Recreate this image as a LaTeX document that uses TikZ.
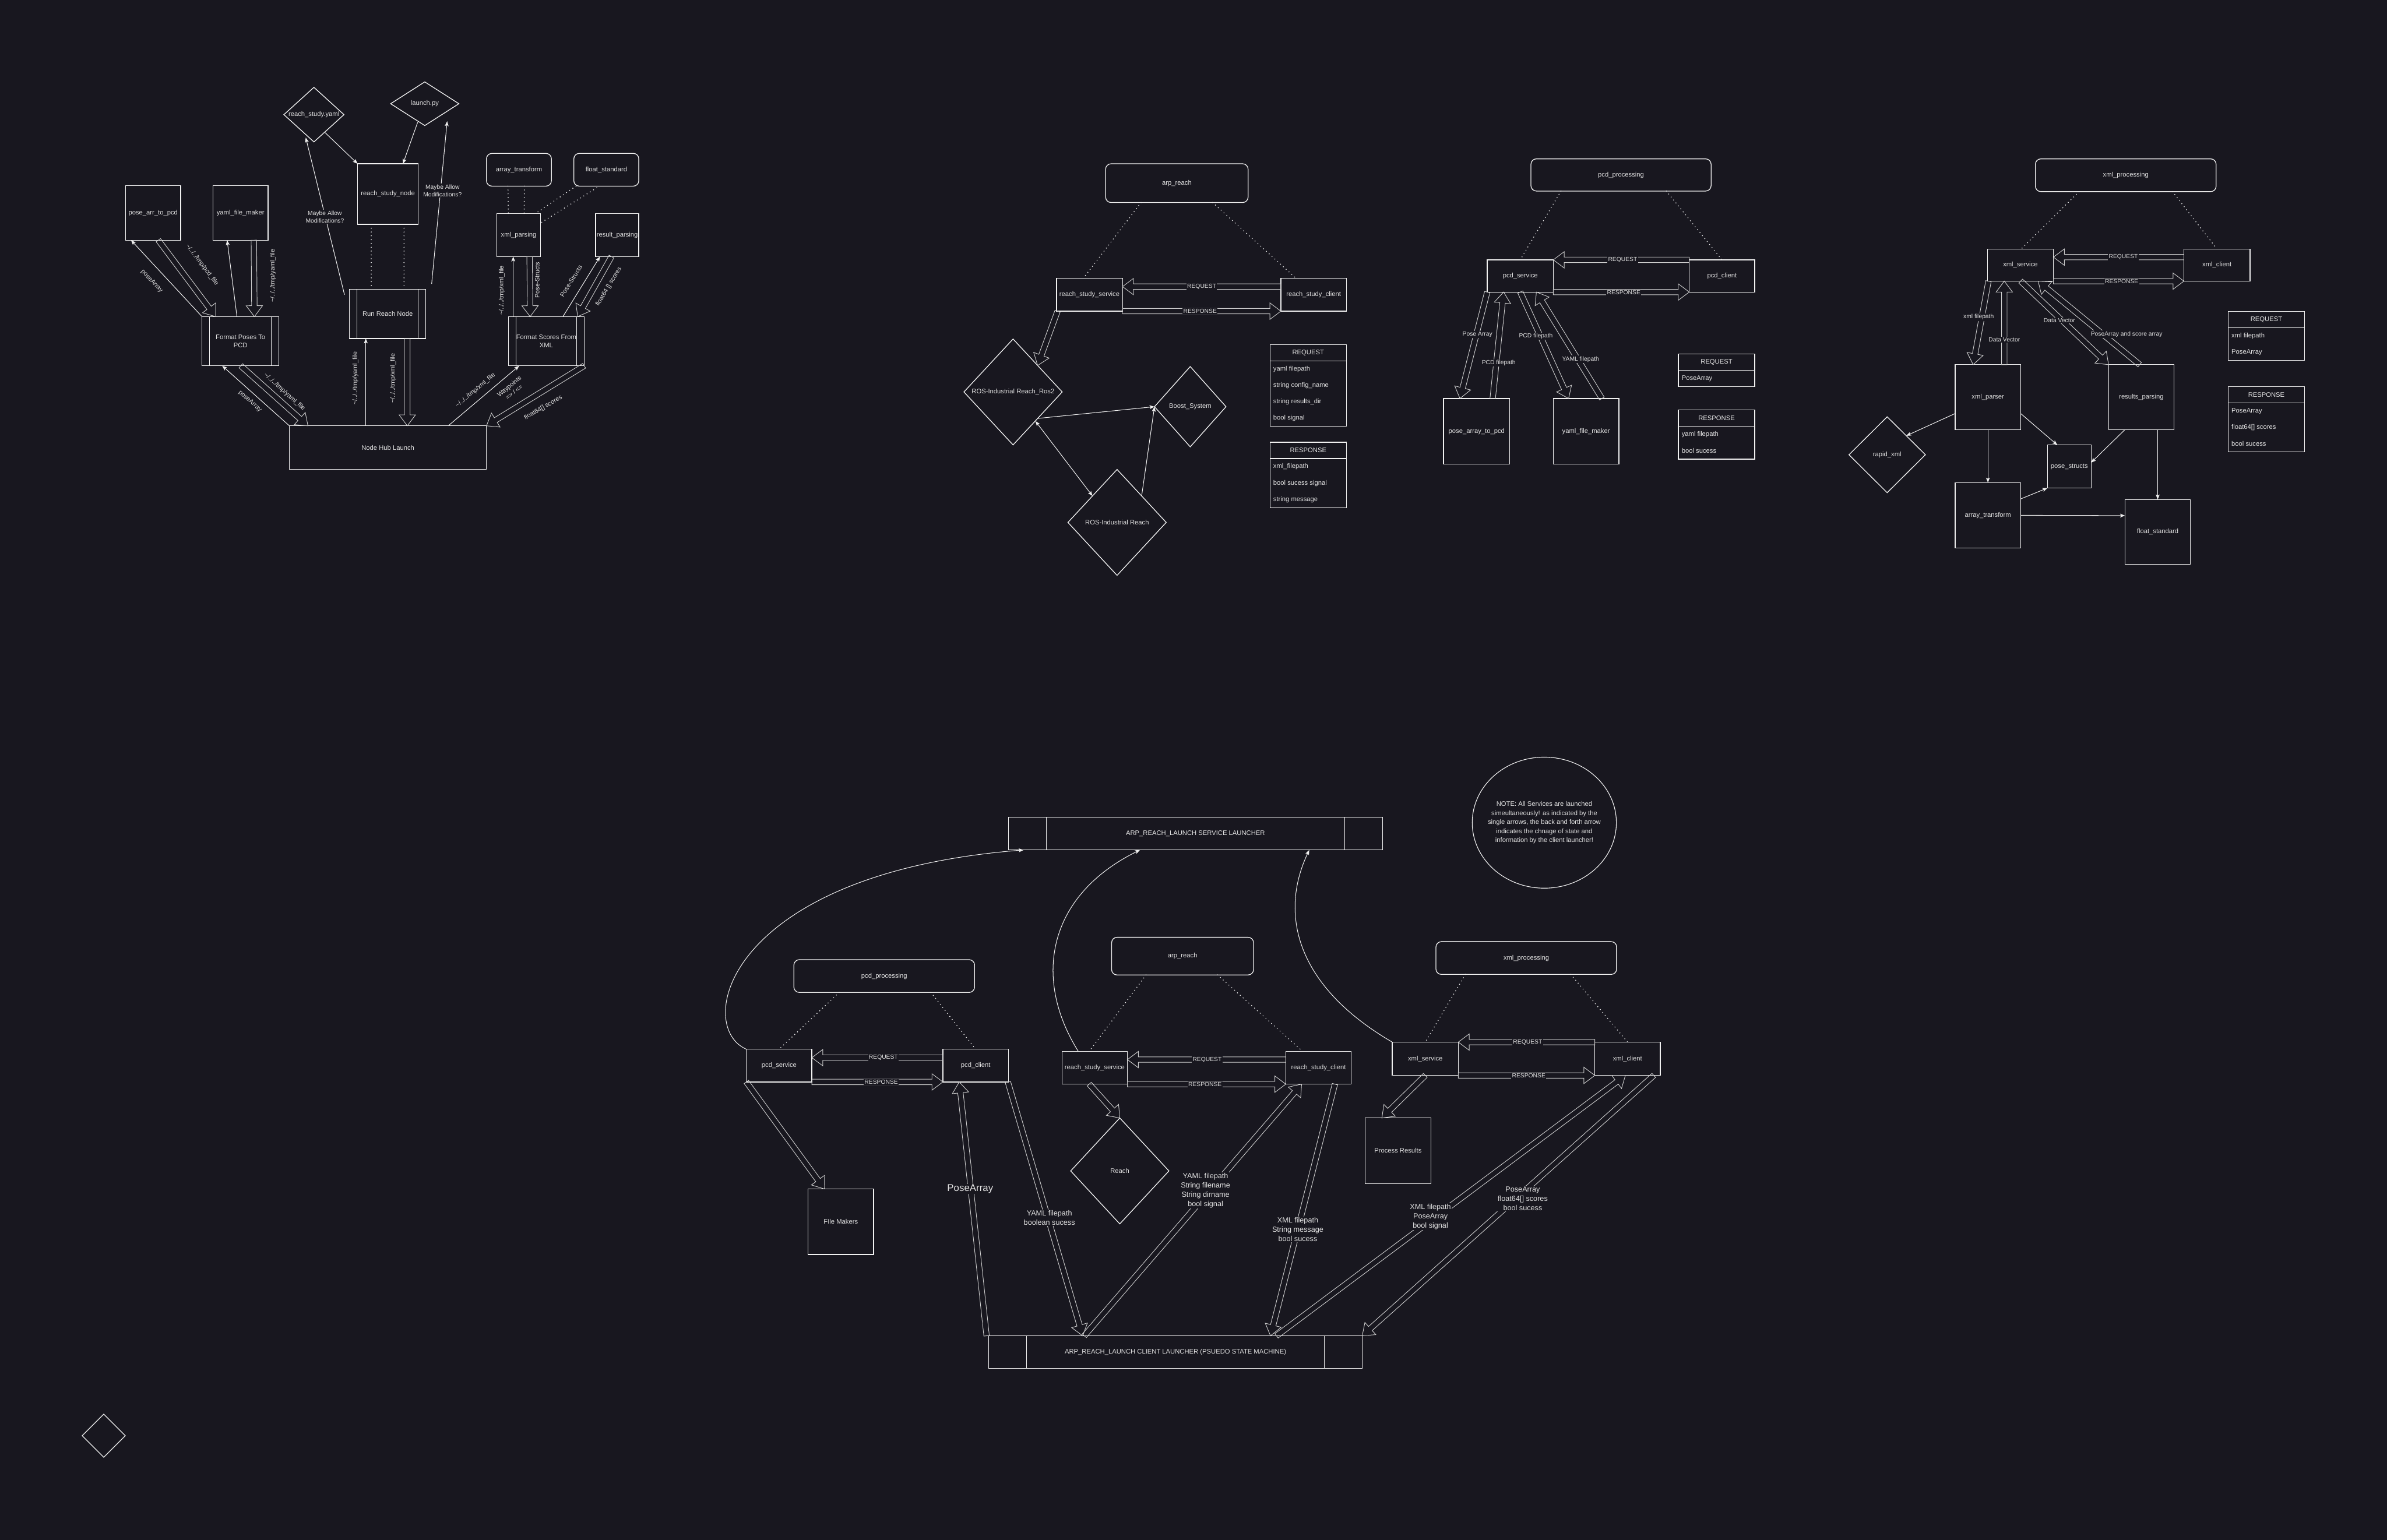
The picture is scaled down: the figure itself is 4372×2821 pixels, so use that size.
\documentclass[tikz,border=0pt]{standalone}
\usepackage{fontspec}
\setmainfont{Liberation Sans}
\usetikzlibrary{arrows.meta,shapes.geometric,calc}
\definecolor{bg}{RGB}{24,23,31}
\definecolor{ln}{RGB}{240,240,240}
\definecolor{tx}{RGB}{226,226,226}
\definecolor{fl}{RGB}{205,205,205}
\newcommand\flexar[2]{%
  \coordinate (fxa) at #1;
  \coordinate (fxb) at #2;
  \coordinate (fxh) at ($(fxb)!20pt!(fxa)$);
  \draw[flex] ($(fxa)!5pt!90:(fxb)$) -- ($(fxh)!5pt!90:(fxb)$) -- ($(fxh)!15pt!90:(fxb)$) -- (fxb) -- ($(fxh)!15pt!-90:(fxb)$) -- ($(fxh)!5pt!-90:(fxb)$) -- ($(fxa)!5pt!-90:(fxb)$) -- cycle;}
\begin{document}
\begin{tikzpicture}[x=1pt,y=-1pt,
 every node/.style={text=tx},
 box/.style={draw=ln, line width=1.4pt, rectangle, inner sep=0pt, outer sep=0pt, font=\fontsize{12}{15}\selectfont, align=center},
 rbox/.style={box, rounded corners=10pt},
 dia/.style={draw=ln, line width=1.4pt, diamond, inner sep=0pt, outer sep=0pt},
 lbl/.style={font=\fontsize{12}{15}\selectfont, align=center, inner sep=0pt},
 elbl/.style={font=\fontsize{11}{14}\selectfont, align=center, inner sep=1.5pt, fill=bg},
 rlbl/.style={font=\fontsize{11.5}{14}\selectfont, align=center, inner sep=0pt},
 big/.style={font=\fontsize{13.5}{16.8}\selectfont, align=center, inner sep=1.5pt, fill=bg},
 conn/.style={draw=ln, line width=1.1pt, -{Stealth[length=9pt,width=7pt,inset=2pt]}},
 dots/.style={draw=ln, line width=2pt, dash pattern=on 0pt off 7pt, line cap=round},
 flex/.style={draw=fl, line width=1pt, line join=miter},
 tbl/.style={draw=ln, line width=1.4pt, rectangle, inner sep=0pt, outer sep=0pt, minimum width=140, font=\fontsize{12}{15}\selectfont},
 rowt/.style={anchor=west, inner sep=0pt, font=\fontsize{12}{15}\selectfont},
 inner/.style={draw=ln, line width=1.2pt}
]
\fill[bg] (0,0) rectangle (4372,2821);
\useasboundingbox (0,0) rectangle (4372,2821);

%================ CLUSTER 1 =================
\node[dia, minimum width=110, minimum height=100] (yamlD) at (575,210) {};
\node[lbl] at (yamlD) {reach\_study.yaml};
\node[dia, minimum width=125, minimum height=80] (launchD) at (778,190) {};
\node[lbl] at (launchD) {launch.py};
\node[box, minimum width=111, minimum height=111] (rsn) at (710.5,355.5) {reach\_study\_node};
\node[box, minimum width=101, minimum height=100] (pap) at (280.5,390) {pose\_arr\_to\_pcd};
\node[box, minimum width=101, minimum height=100] (yfm1) at (440.5,390) {yaml\_file\_maker};
\node[rbox, minimum width=119, minimum height=60] (at1) at (950.5,311) {array\_transform};
\node[rbox, minimum width=119, minimum height=60] (fs1) at (1110.5,311) {float\_standard};
\node[box, minimum width=80, minimum height=79] (xp1) at (950,430.5) {xml\_parsing};
\node[box, minimum width=79, minimum height=79] (rp1) at (1130.5,430.5) {result\_parsing};
\node[box, minimum width=140, minimum height=90] (rrn) at (710,575) {Run Reach Node};
\node[box, minimum width=141, minimum height=90] (fpp) at (440.5,625) {Format Poses To\\PCD};
\node[box, minimum width=139, minimum height=90] (fsx) at (1000.5,625) {Format Scores From\\XML};
\node[box, minimum width=361, minimum height=80] (nhl) at (710.5,820) {Node Hub Launch};
\foreach \n in {rrn,fpp,fsx} {
  \draw[inner] ([xshift=14]\n.north west) -- ([xshift=14]\n.south west);
  \draw[inner] ([xshift=-14]\n.north east) -- ([xshift=-14]\n.south east);
}
\draw[conn] ([shift={(-7,8)}]yamlD.south east) -- (rsn.north west);
\draw[conn] ([shift={(-13,34)}]launchD.center) -- ([xshift=-28]rsn.north east);
\draw[conn] ([shift={(-9,10)}]rrn.north west) -- ([shift={(-15,42)}]yamlD.center);
\draw[conn] ([shift={(10.6,-10)}]rrn.north east) -- ([shift={(41,32)}]launchD.center);
\draw[dots] ([xshift=-30.5]rsn.south) -- ([xshift=-30]rrn.north);
\draw[dots] ([xshift=29.5]rsn.south) -- ([xshift=30]rrn.north);
\draw[dots] ([xshift=-20]at1.south) -- ([xshift=-19]xp1.north);
\draw[dots] ([xshift=10]at1.south) -- ([xshift=10]xp1.north);
\draw[dots] ([xshift=4]fs1.south west) -- ([xshift=-9]xp1.north east);
\draw[dots] ([shift={(42,3)}]fs1.south west) -- ([shift={(1,17)}]xp1.north east);

\draw[conn] (fpp.north west) -- ([xshift=10]pap.south west);
\flexar{([xshift=60]pap.south west)}{([xshift=25]fpp.north west)}
\draw[conn] ([xshift=64]fpp.north west) -- ([xshift=26]yfm1.south west);
\flexar{([xshift=75]yfm1.south west)}{([xshift=96]fpp.north west)}
\draw[conn] (nhl.north west) -- ([xshift=37]fpp.south west);
\flexar{([xshift=71]fpp.south west)}{([xshift=34]nhl.north west)}
\draw[conn] ([xshift=140]nhl.north west) -- ([xshift=30]rrn.south west);
\flexar{([xshift=106]rrn.south west)}{([xshift=216]nhl.north west)}
\draw[conn] ([xshift=291]nhl.north west) -- ([xshift=20]fsx.south west);
\flexar{(fsx.south east)}{(nhl.north east)}
\draw[conn] ([xshift=9]fsx.north west) -- ([xshift=30]xp1.south west);
\flexar{([xshift=60]xp1.south west)}{([xshift=40]fsx.north west)}
\draw[conn] ([xshift=100]fsx.north west) -- ([xshift=8]rp1.south west);
\flexar{([xshift=29]rp1.south west)}{([xshift=127]fsx.north west)}

\node[elbl] at (595,397) {Maybe Allow\\Modifications?};
\node[elbl] at (810.5,349) {Maybe Allow\\Modifications?};
\node[rlbl, rotate=-46.7] at (278,515) {poseArray};
\node[rlbl, rotate=-52.7] at (370,485) {\textasciitilde/../../tmp/pcd\_file};
\node[rlbl, rotate=90] at (500,505) {\textasciitilde/../../tmp/yaml\_file};
\node[rlbl, rotate=-41.5] at (458,735) {poseArray};
\node[rlbl, rotate=-41.8] at (521,718) {\textasciitilde/../../tmp/yaml\_file};
\node[rlbl, rotate=90] at (651,693) {\textasciitilde/../../tmp/yaml\_file};
\node[rlbl, rotate=90] at (720,693) {\textasciitilde/../../tmp/xml\_file};
\node[rlbl, rotate=40] at (871,715) {\textasciitilde/../../tmp/xml\_file};
\node[rlbl, rotate=40] at (937,713) {Waypoints\\=> / <=};
\node[rlbl, rotate=30] at (995,747) {float64[] scores};
\node[rlbl, rotate=90] at (919,532) {\textasciitilde/../../tmp/xml\_file};
\node[rlbl, rotate=90] at (984,513) {Pose-Structs};
\node[rlbl, rotate=58] at (1046,515) {Pose-Structs};
\node[rlbl, rotate=59] at (1115,525) {float64 [] scores};

%================ CLUSTER 2 (arp_reach) =================
\node[rbox, minimum width=261, minimum height=71] (ar2) at (2155.5,335.5) {arp\_reach};
\node[box, minimum width=121, minimum height=60] (rss2) at (1995.5,540) {reach\_study\_service};
\node[box, minimum width=120, minimum height=60] (rsc2) at (2406,540) {reach\_study\_client};
\node[dia, minimum width=180, minimum height=194] (ros2D) at (1855.5,718) {};
\node[lbl] at (ros2D) {ROS-Industrial Reach\_Ros2};
\node[dia, minimum width=131, minimum height=147] (boostD) at (2180,745) {};
\node[lbl] at (boostD) {Boost\_System};
\node[dia, minimum width=180, minimum height=194] (rosD) at (2046,957) {};
\node[lbl] at (rosD) {ROS-Industrial Reach};
\draw[dots] ([xshift=-65.5]ar2.south) -- ([xshift=-11.5]rss2.north);
\draw[dots] ([xshift=65.5]ar2.south) -- ([xshift=-32]rsc2.north);
\flexar{([yshift=15]rsc2.west)}{([yshift=15]rss2.east)}
\flexar{(rss2.south east)}{(rsc2.south west)}
\node[elbl] at (2201,525) {REQUEST};
\node[elbl] at (2198,570) {RESPONSE};
\flexar{([xshift=2]rss2.south west)}{(ros2D.north east)}
\draw[conn] (ros2D.south east) -- (boostD.west);
\draw[conn, {Stealth[length=9pt,width=7pt,inset=2pt]}-{Stealth[length=9pt,width=7pt,inset=2pt]}] ([shift={(-4,5)}]ros2D.south east) -- (rosD.north west);
\draw[conn] (rosD.north east) -- (boostD.west);
% tables
\node[tbl, minimum height=150] (rq2) at (2396,706) {};
\node[tbl, minimum height=30] (rq2h) at (2396,646) {REQUEST};
\node[rowt] at (2332,676) {yaml filepath};
\node[rowt] at (2332,706) {string config\_name};
\node[rowt] at (2332,736) {string results\_dir};
\node[rowt] at (2332,766) {bool signal};
\node[tbl, minimum height=120] (rs2) at (2396,870) {};
\node[tbl, minimum height=30] (rs2h) at (2396,825) {RESPONSE};
\node[rowt] at (2332,855) {xml\_filepath};
\node[rowt] at (2332,885) {bool sucess signal};
\node[rowt] at (2332,915) {string message};

%================ CLUSTER 3 (pcd) =================
\node[rbox, minimum width=330, minimum height=59] (pp3) at (2969,320.5) {pcd\_processing};
\node[box, minimum width=121, minimum height=59] (ps3) at (2784.5,505.5) {pcd\_service};
\node[box, minimum width=120, minimum height=59] (pc3) at (3154,505.5) {pcd\_client};
\node[box, minimum width=121, minimum height=120] (papc3) at (2704.5,790) {pose\_array\_to\_pcd};
\node[box, minimum width=120, minimum height=120] (yfm3) at (2905,790) {yaml\_file\_maker};
\draw[dots] ([xshift=-110]pp3.south) -- (ps3.north);
\draw[dots] ([xshift=83]pp3.south) -- (pc3.north);
\flexar{(pc3.north west)}{(ps3.north east)}
\flexar{(ps3.south east)}{(pc3.south west)}
\node[elbl] at (2972,476) {REQUEST};
\node[elbl] at (2974,536) {RESPONSE};
\flexar{(ps3.south west)}{([xshift=30]papc3.north west)}
\flexar{([xshift=90]papc3.north west)}{([xshift=30]ps3.south west)}
\flexar{(ps3.south)}{([xshift=28]yfm3.north west)}
\flexar{([xshift=89]yfm3.north west)}{([xshift=90]ps3.south west)}
\node[elbl] at (2706,613) {Pose Array};
\node[elbl] at (2745,665) {PCD filepath};
\node[elbl] at (2813,616) {PCD filepath};
\node[elbl] at (2895,658) {YAML filepath};
\node[tbl, minimum height=60] (rq3) at (3144,678.5) {};
\node[tbl, minimum height=30] (rq3h) at (3144,663.5) {REQUEST};
\node[rowt] at (3080,693.5) {PoseArray};
\node[tbl, minimum height=90] (rs3) at (3144,796) {};
\node[tbl, minimum height=30] (rs3h) at (3144,766) {RESPONSE};
\node[rowt] at (3080,796) {yaml filepath};
\node[rowt] at (3080,826) {bool sucess};

%================ CLUSTER 4 (xml) =================
\node[rbox, minimum width=331, minimum height=60] (xp4) at (3893.5,321) {xml\_processing};
\node[box, minimum width=121, minimum height=59] (xs4) at (3700.5,485.5) {xml\_service};
\node[box, minimum width=121, minimum height=59] (xc4) at (4060.5,485.5) {xml\_client};
\node[box, minimum width=120, minimum height=119] (xpar4) at (3641,727.5) {xml\_parser};
\node[box, minimum width=120, minimum height=119] (rpar4) at (3922,727.5) {results\_parsing};
\node[dia, minimum width=140, minimum height=139] (rxD) at (3456.5,833) {};
\node[lbl] at (rxD) {rapid\_xml};
\node[box, minimum width=80, minimum height=79] (pst4) at (3790,854.5) {pose\_structs};
\node[box, minimum width=120, minimum height=120] (at4) at (3641,944) {array\_transform};
\node[box, minimum width=120, minimum height=119] (fs4) at (3952,974.5) {float\_standard};
\draw[dots] ([xshift=-85.5]xp4.south) -- ([xshift=1.5]xs4.north);
\draw[dots] ([xshift=85.5]xp4.south) -- (xc4.north);
\flexar{([yshift=-15]xc4.north west)}{([yshift=-15]xs4.north east)}
\flexar{(xs4.south east)}{(xc4.south west)}
\node[elbl] at (3889,471) {REQUEST};
\node[elbl] at (3886,516) {RESPONSE};
\flexar{([xshift=2]xs4.south west)}{([xshift=33]xpar4.north west)}
\flexar{([xshift=90]xpar4.north west)}{([xshift=31]xs4.south west)}
\flexar{([xshift=61]xs4.south west)}{(rpar4.north west)}
\flexar{([xshift=57]rpar4.north west)}{([xshift=93]xs4.south west)}
\node[elbl] at (3624,581) {xml filepath};
\node[elbl] at (3671,622) {Data Vector};
\node[elbl] at (3772,587) {Data Vector};
\node[elbl] at (3895,612) {PoseArray and score array};
\draw[conn] ([yshift=-30]xpar4.west) -- (rxD.north east);
\draw[conn] ([yshift=-30]xpar4.east) -- ([xshift=18]pst4.north west);
\draw[conn] (xpar4.south) -- (at4.north);
\draw[conn] ([xshift=30]rpar4.south west) -- ([yshift=7]pst4.east);
\draw[conn] ([xshift=90]rpar4.south west) -- (fs4.north);
\draw[conn] ([yshift=-30]at4.north east) -- (pst4.south west);
\draw[conn] (at4.east) -- ([yshift=30]fs4.west);
\node[tbl, minimum height=90] (rq4) at (4151,615.5) {};
\node[tbl, minimum height=30] (rq4h) at (4151,585.5) {REQUEST};
\node[rowt] at (4087,615.5) {xml filepath};
\node[rowt] at (4087,645.5) {PoseArray};
\node[tbl, minimum height=120] (rs4) at (4151,768) {};
\node[tbl, minimum height=30] (rs4h) at (4151,723) {RESPONSE};
\node[rowt] at (4087,753) {PoseArray};
\node[rowt] at (4087,783) {float64[] scores};
\node[rowt] at (4087,813) {bool sucess};

%================ BOTTOM =================
\node[box, minimum width=685, minimum height=60] (sl) at (2189.5,1527) {ARP\_REACH\_LAUNCH SERVICE LAUNCHER};
\node[box, minimum width=684, minimum height=60] (cl) at (2153,2477) {ARP\_REACH\_LAUNCH CLIENT LAUNCHER (PSUEDO STATE MACHINE)};
\foreach \n in {sl,cl} {
  \draw[inner] ([xshift=69]\n.north west) -- ([xshift=69]\n.south west);
  \draw[inner] ([xshift=-69]\n.north east) -- ([xshift=-69]\n.south east);
}
\node[draw=ln, line width=1.2pt, ellipse, minimum width=264, minimum height=240, inner sep=0pt] (note) at (2828.5,1507) {};
\node[font=\fontsize{12}{16.5}\selectfont, align=center, inner sep=0pt] at (note) {NOTE: All Services are launched\\simeultaneously! as indicated by the\\single arrows, the back and forth arrow\\indicates the chnage of state and\\information by the client launcher!};

\node[rbox, minimum width=331, minimum height=60] (pp5) at (1619.5,1788) {pcd\_processing};
\node[box, minimum width=120, minimum height=60] (ps5) at (1427,1952) {pcd\_service};
\node[box, minimum width=120, minimum height=60] (pc5) at (1787,1952) {pcd\_client};
\node[box, minimum width=120, minimum height=120] (fm5) at (1540,2238) {FIle Makers};
\node[rbox, minimum width=260, minimum height=69] (ar5) at (2166,1751.5) {arp\_reach};
\node[box, minimum width=120, minimum height=60] (rss5) at (2005,1956) {reach\_study\_service};
\node[box, minimum width=120, minimum height=60] (rsc5) at (2415,1956) {reach\_study\_client};
\node[dia, minimum width=180, minimum height=194] (reachD) at (2051,2145) {};
\node[lbl] at (reachD) {Reach};
\node[rbox, minimum width=331, minimum height=60] (xp5) at (2795.5,1755) {xml\_processing};
\node[box, minimum width=121, minimum height=61] (xs5) at (2610.5,1939.5) {xml\_service};
\node[box, minimum width=120, minimum height=61] (xc5) at (2981,1939.5) {xml\_client};
\node[box, minimum width=121, minimum height=120] (pr5) at (2560.5,2108) {Process Results};
\node[dia, minimum width=79, minimum height=79] (corner) at (190,2630) {};

\draw[dots] ([xshift=-82.5]pp5.south) -- (ps5.north);
\draw[dots] ([xshift=85.5]pp5.south) -- (pc5.north);
\draw[dots] ([xshift=-67]ar5.south) -- ([xshift=-10]rss5.north);
\draw[dots] ([xshift=64]ar5.south) -- ([xshift=-29]rsc5.north);
\draw[dots] ([xshift=-111.5]xp5.south) -- (xs5.north);
\draw[dots] ([xshift=81.5]xp5.south) -- (xc5.north);

\flexar{([yshift=14.5]pc5.west)}{([yshift=14.5]ps5.east)}
\flexar{(ps5.south east)}{(pc5.south west)}
\node[elbl] at (1618,1937.5) {REQUEST};
\node[elbl] at (1614,1982) {RESPONSE};
\flexar{([yshift=15]rsc5.west)}{([yshift=15]rss5.east)}
\flexar{(rss5.south east)}{(rsc5.south west)}
\node[elbl] at (2211,1941) {REQUEST};
\node[elbl] at (2207,1986) {RESPONSE};
\flexar{(xc5.north west)}{(xs5.north east)}
\flexar{(xs5.south east)}{(xc5.south west)}
\node[elbl] at (2798,1909) {REQUEST};
\node[elbl] at (2800,1970) {RESPONSE};

\flexar{(ps5.south west)}{([xshift=30]fm5.north west)}
\flexar{([xshift=-4]cl.north west)}{([xshift=30]pc5.south west)}
\flexar{([xshift=119]pc5.south west)}{([xshift=172]cl.north west)}
\flexar{([xshift=-10]rss5.south)}{(reachD.north)}
\flexar{([xshift=175]cl.north west)}{([xshift=29]rsc5.south west)}
\flexar{([xshift=90]rsc5.south west)}{([xshift=516]cl.north west)}
\flexar{(xs5.south)}{([xshift=31]pr5.north west)}
\flexar{([xshift=527]cl.north west)}{([xshift=56]xc5.south west)}
\flexar{([xshift=-12]xc5.south east)}{(cl.north east)}

\node[font=\fontsize{18}{21}\selectfont, inner sep=1.5pt, fill=bg] at (1777,2178) {PoseArray};
\node[big] at (1922,2231) {YAML filepath\\boolean sucess};
\node[big] at (2208,2181) {YAML filepath\\String filename\\String dirname\\bool signal};
\node[big] at (2377,2252) {XML filepath\\String message\\bool sucess};
\node[big] at (2620,2229) {XML filepath\\PoseArray\\bool signal};
\node[big] at (2789,2196) {PoseArray\\float64[] scores\\bool sucess};

\draw[conn] (ps5.north west) .. controls (1270,1880) and (1330,1600) .. ([xshift=28]sl.south west);
\draw[conn] ([xshift=30]rss5.north west) .. controls (1890,1790) and (1920,1640) .. ([xshift=241]sl.south west);
\draw[conn] (xs5.north west) .. controls (2380,1810) and (2340,1680) .. ([xshift=551]sl.south west);
\end{tikzpicture}
\end{document}
